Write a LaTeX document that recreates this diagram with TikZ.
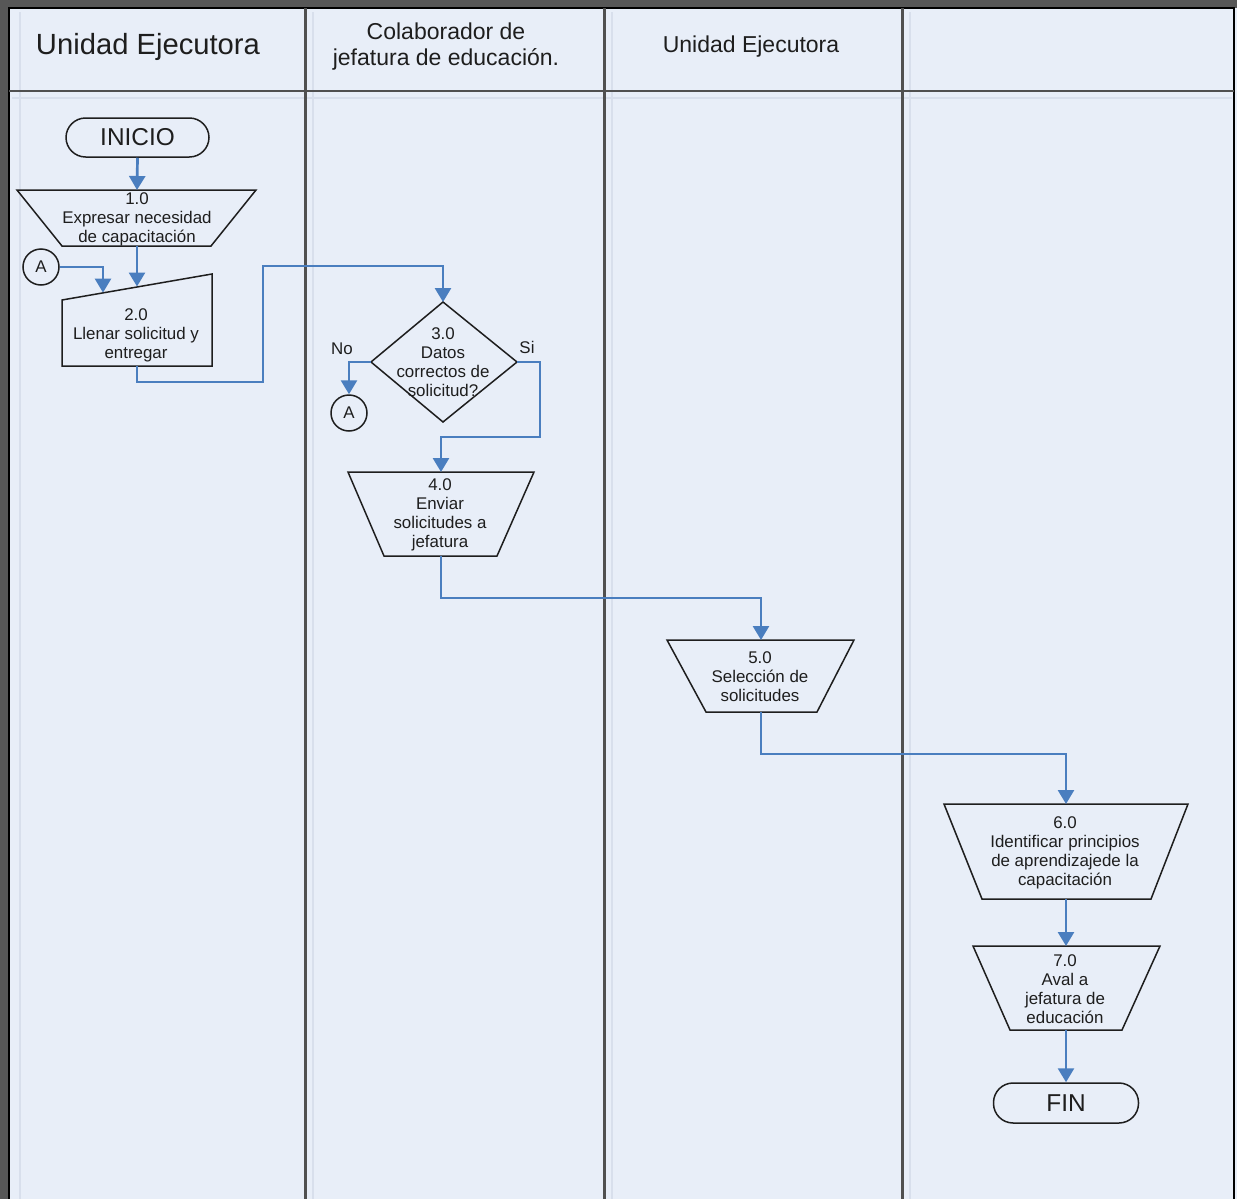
\documentclass[tikz,border=0pt]{standalone}
\usepackage{fontspec}
\setmainfont{Liberation Sans}
\usetikzlibrary{arrows.meta}
\definecolor{poolbg}{HTML}{E8EEF8}
\definecolor{flow}{HTML}{4A7EBF}
\definecolor{outer}{HTML}{575757}
\definecolor{lanesep}{HTML}{505050}
\definecolor{faint}{HTML}{D8DFEC}
\definecolor{ink}{HTML}{1E1E1E}
\tikzset{
  shapeline/.style={draw=ink, line width=0.75pt, line join=miter},
  flowarrow/.style={draw=flow, line width=1.35pt, -{Triangle[width=8pt,length=7pt]}},
  steptext/.style={text=ink, align=center, inner sep=0pt, font=\fontsize{8.45}{9.5}\selectfont},
  bigtitle/.style={text=ink, align=center, inner sep=0pt, font=\fontsize{14.6}{16}\selectfont},
  lanetitle/.style={text=ink, align=center, inner sep=0pt, font=\fontsize{11.5}{13}\selectfont},
  terminal/.style={shapeline, rounded corners=9.8pt, minimum width=71.5pt, minimum height=19.5pt,
    inner sep=0pt, text=ink, font=\fontsize{12.2}{14}\selectfont},
  connector/.style={shapeline, circle, minimum size=18pt, inner sep=0pt, text=ink,
    font=\fontsize{8.45}{9.5}\selectfont},
  branchlabel/.style={text=ink, inner sep=0pt, font=\fontsize{8.45}{9.5}\selectfont},
}
\begin{document}
\begin{tikzpicture}[x=0.5pt,y=-0.5pt]
\useasboundingbox (0,0) rectangle (1237,1199);
% frame and pool background
\fill[outer] (0,0) rectangle (1237,1199);
\fill[poolbg] (9,8) rectangle (1237,1199);
% faint inner guide lines of each lane
\foreach \gx in {20,313,612,910} \draw[faint, line width=0.6pt] (\gx,12) -- (\gx,1199);
\draw[faint, line width=0.6pt] (12,98) -- (1232,98);
% pool border, header separator and lanes
\draw[black, line width=1.1pt] (9,1199) -- (9,8) -- (1234,8) -- (1234,1199);
\draw[lanesep, line width=1.1pt] (9,91) -- (1234,91);
\foreach \lx in {305,604,902} \draw[lanesep, line width=1.5pt] (\lx,8) -- (\lx,1199);

% lane titles
\node[bigtitle] (h1) at (148,46.5) {Unidad Ejecutora};
\node[lanetitle] (h2) at (446,46.5) {Colaborador de\\jefatura de educación.};
\node[lanetitle] (h3) at (751,46.5) {Unidad Ejecutora};

% start
\node[terminal] (inicio) at (137.5,137.5) {INICIO};

% 1.0 manual operation
\coordinate (n1top) at (137,190);
\coordinate (n1bot) at (137,246);
\draw[shapeline] (17,190) -- (256,190) -- (211,246) -- (62,246) -- cycle;
\node[steptext] (t1) at (137,219) {1.0\\Expresar necesidad\\de capacitación};

% 2.0 manual input
\coordinate (n2top) at (137,286.5);
\coordinate (n2topA) at (103,292.6);
\coordinate (n2bot) at (137,366);
\draw[shapeline] (62,300) -- (212,274) -- (212,366) -- (62,366) -- cycle;
\node[steptext] (t2) at (136,335) {2.0\\Llenar solicitud y\\entregar};
\node[connector] (a1) at (41,267) {A};

% 3.0 decision
\coordinate (d3top) at (443,302);
\coordinate (d3left) at (371,362);
\coordinate (d3right) at (517,362);
\coordinate (d3bot) at (443,422);
\draw[shapeline] (d3top) -- (d3right) -- (d3bot) -- (d3left) -- cycle;
\node[steptext] (t3) at (443,362.5) {3.0\\Datos\\correctos de\\solicitud?};
\node[branchlabel] (no) at (342,349) {No};
\node[branchlabel] (si) at (527,347) {Si};
\node[connector] (a2) at (349,413) {A};

% 4.0
\coordinate (n4top) at (441,472);
\coordinate (n4bot) at (441,556);
\draw[shapeline] (348,472) -- (534,472) -- (497,556) -- (384,556) -- cycle;
\node[steptext] (t4) at (440,514.5) {4.0\\Enviar\\solicitudes a\\jefatura};

% 5.0
\coordinate (n5top) at (761,640);
\coordinate (n5bot) at (761,712);
\draw[shapeline] (667,640) -- (854,640) -- (817,712) -- (706,712) -- cycle;
\node[steptext] (t5) at (760,677) {5.0\\Selección de\\solicitudes};

% 6.0
\coordinate (n6top) at (1066,804);
\coordinate (n6bot) at (1066,899);
\draw[shapeline] (944,804) -- (1188,804) -- (1151,899) -- (982,899) -- cycle;
\node[steptext] (t6) at (1065,852.5) {6.0\\Identificar principios\\de aprendizajede la\\capacitación};

% 7.0
\coordinate (n7top) at (1066,946);
\coordinate (n7bot) at (1066,1030);
\draw[shapeline] (973,946) -- (1160,946) -- (1122,1030) -- (1010,1030) -- cycle;
\node[steptext] (t7) at (1065,989) {7.0\\Aval a\\jefatura de\\educación};

% end
\node[terminal, minimum width=72.5pt, minimum height=20pt] (fin) at (1066,1103) {FIN};

% flow
\draw[flowarrow] (inicio.south) -- (n1top);
\draw[flowarrow] (n1bot) -- (n2top);
\draw[flowarrow] (a1.east) -| (n2topA);
\draw[flowarrow] (n2bot) -- (137,382) -- (263,382) -- (263,266) -- (443,266) -- (d3top);
\draw[flowarrow] (d3left) -| (a2.north);
\draw[flowarrow] (d3right) -- (540,362) -- (540,437) -- (441,437) -- (n4top);
\draw[flowarrow] (n4bot) -- (441,598) -- (761,598) -- (n5top);
\draw[flowarrow] (n5bot) -- (761,754) -- (1066,754) -- (n6top);
\draw[flowarrow] (n6bot) -- (n7top);
\draw[flowarrow] (n7bot) -- (fin.north);
\end{tikzpicture}
\end{document}
